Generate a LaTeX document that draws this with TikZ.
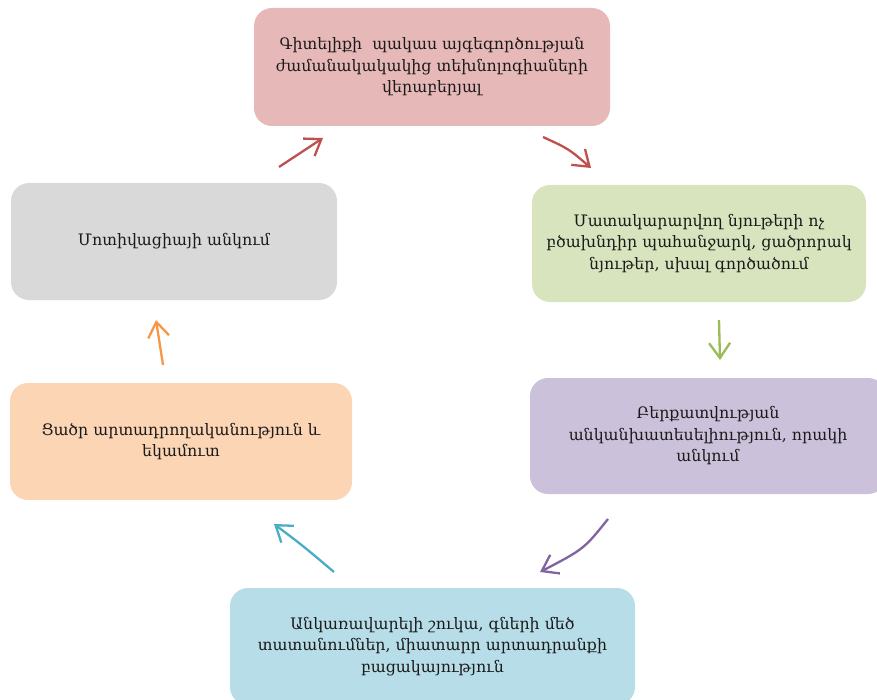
\documentclass[tikz,border=0pt]{standalone}
\usepackage{fontspec}
\setmainfont{DejaVu Serif}
\usetikzlibrary{arrows.meta}
\definecolor{cpink}{HTML}{E6B8B7}
\definecolor{cgreen}{HTML}{D7E4BD}
\definecolor{cpurple}{HTML}{CCC1DA}
\definecolor{cblue}{HTML}{B7DEE8}
\definecolor{corange}{HTML}{FCD5B5}
\definecolor{cgray}{HTML}{D9D9D9}
\definecolor{ared}{HTML}{C0504D}
\definecolor{agreen}{HTML}{9BBB59}
\definecolor{apurple}{HTML}{8064A2}
\definecolor{ablue}{HTML}{4BACC6}
\definecolor{aorange}{HTML}{F79646}
\definecolor{txt}{HTML}{1A1A1A}
\tikzset{
  box/.style={rounded corners=18pt, inner sep=0pt, align=center, text=txt,
    font=\fontsize{15.8}{21.5}\selectfont},
  cyc/.style={line width=2.3pt, -{Straight Barb[length=15pt,width=21pt]}},
}
\begin{document}
\begin{tikzpicture}[x=1pt,y=-1pt]
\useasboundingbox (0,0) rectangle (877,700);
\node[box, fill=cpink, minimum width=356pt, minimum height=118pt] (b1) at (432,67)
  {Գիտելիքի\ \ պակաս այգեգործության\\ժամանակակակից տեխնոլոգիաների\\վերաբերյալ};
\node[box, fill=cgreen, minimum width=334pt, minimum height=117pt] (b2) at (699,243.5)
  {Մատակարարվող նյութերի ոչ\\բծախնդիր պահանջարկ, ցածրորակ\\նյութեր, սխալ գործածում};
\node[box, fill=cpurple, minimum width=356pt, minimum height=116pt] (b3) at (708,436)
  {Բերքատվության\\անկանխատեսելիություն, որակի\\անկում};
\node[box, fill=cblue, minimum width=405pt, minimum height=117pt] (b4) at (432.5,646.5)
  {Անկառավարելի շուկա, գների մեծ\\տատանումներ, միատարր արտադրանքի\\բացակայություն};
\node[box, fill=corange, minimum width=342pt, minimum height=117pt] (b5) at (181,441.5)
  {Ցածր արտադրողականություն և\\եկամուտ};
\node[box, fill=cgray, minimum width=326pt, minimum height=117pt] (b6) at (174,241.5)
  {Մոտիվացիայի անկում};
% arrow end points
\coordinate (r1s) at (279,167); \coordinate (r1e) at (323,138);
\coordinate (r2s) at (543,137); \coordinate (r2e) at (591,168);
\coordinate (gs) at (719,320); \coordinate (ge) at (720,360);
\coordinate (ps) at (608,519); \coordinate (pe) at (540,572);
\coordinate (bs) at (334,572); \coordinate (be) at (274,524);
\coordinate (os) at (163,365); \coordinate (oe) at (156,320);
\draw[cyc, ared] (r1s) -- (r1e);
\draw[cyc, ared] (r2s) .. controls (569,149) .. (r2e);
\draw[cyc, agreen] (gs) -- (ge);
\draw[cyc, apurple] (ps) .. controls (584,549) .. (pe);
\draw[cyc, ablue] (bs) .. controls (302,545) .. (be);
\draw[cyc, aorange] (os) -- (oe);
\end{tikzpicture}
\end{document}
